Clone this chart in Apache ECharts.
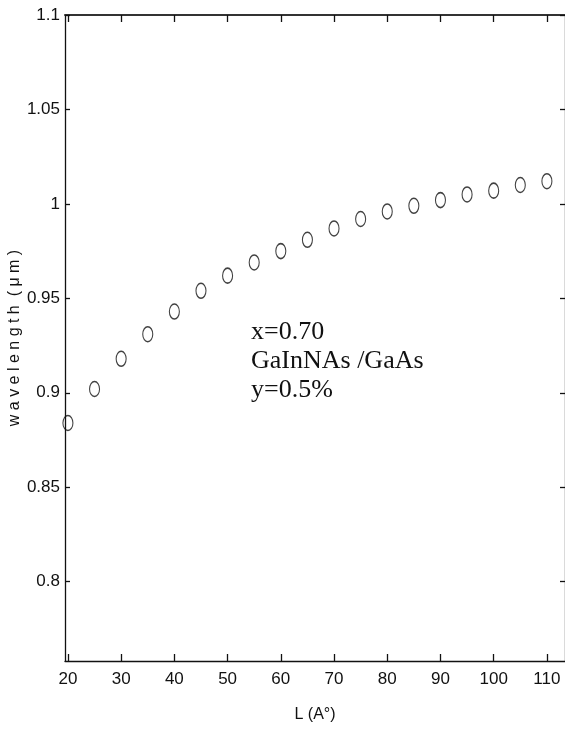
<!DOCTYPE html>
<html>
<head>
<meta charset="utf-8">
<script src="https://cdn.jsdelivr.net/npm/echarts@6.0.0/dist/echarts.min.js"></script>
<style>
  html, body { margin: 0; padding: 0; background: #fff; }
</style>
</head>
<body>
<div id="main" style="width: 565px;height: 729px;background: #fff"></div>
<script>
  // well width L (Angstrom) and emission wavelength (um)
  var lengths = [20, 25, 30, 35, 40, 45, 50, 55, 60, 65, 70, 75, 80, 85, 90, 95, 100, 105, 110];
  var wavelengths = [0.884, 0.902, 0.918, 0.931, 0.943, 0.954, 0.962, 0.969, 0.975, 0.981,
                     0.987, 0.992, 0.996, 0.999, 1.002, 1.005, 1.007, 1.010, 1.012];
  var xTicks = [20, 30, 40, 50, 60, 70, 80, 90, 100, 110];
  var yTicks = [0.8, 0.85, 0.9, 0.95, 1, 1.05, 1.1];
  var noteLines = ['x=0.70', 'GaInNAs /GaAs', 'y=0.5%'];

  var points = lengths.map(function (l, i) {
    return [l, wavelengths[i]];
  });

  var labelFont = "'Liberation Sans', Arial, sans-serif";
  var lineStyle = {color: '#111', width: 1.3};

  var myChart = echarts.init(document.getElementById('main'));
  myChart.setOption({
    animation: false,
    grid: {
      left: 65,
      right: 0,
      top: 15,
      bottom: 68,
      outerBoundsMode: 'none'
    },
    xAxis: [{
      type: 'value',
      position: 'bottom',
      min: 19.45,
      max: 113.4,
      name: 'L (A°)',
      nameLocation: 'middle',
      nameGap: 46,
      nameMoveOverlap: false,
      nameTextStyle: {fontFamily: labelFont, fontSize: 16, color: '#111'},
      splitLine: {show: false},
      axisLine: {show: true, lineStyle: lineStyle},
      axisTick: {show: true, inside: true, length: 7, customValues: xTicks, lineStyle: lineStyle},
      axisLabel: {customValues: xTicks, margin: 10, fontFamily: labelFont, fontSize: 17, color: '#111'}
    }, {
      type: 'value',
      position: 'top',
      min: 19.45,
      max: 113.4,
      splitLine: {show: false},
      axisLine: {show: true, lineStyle: {color: '#333', width: 2}},
      axisTick: {show: true, inside: true, length: 7, customValues: xTicks, lineStyle: lineStyle},
      axisLabel: {show: false}
    }],
    yAxis: [{
      type: 'value',
      position: 'left',
      min: 0.758,
      max: 1.1,
      name: 'w a v e l e n g t h  ( μ m )',
      nameLocation: 'middle',
      nameGap: 42,
      nameMoveOverlap: false,
      nameTextStyle: {fontFamily: labelFont, fontSize: 16, color: '#111'},
      splitLine: {show: false},
      axisLine: {show: true, lineStyle: lineStyle},
      axisTick: {show: true, inside: true, length: 5, customValues: yTicks, lineStyle: lineStyle},
      axisLabel: {customValues: yTicks, margin: 5, fontFamily: labelFont, fontSize: 17, color: '#111'}
    }, {
      type: 'value',
      position: 'right',
      min: 0.758,
      max: 1.1,
      splitLine: {show: false},
      axisLine: {show: true, lineStyle: lineStyle},
      axisTick: {show: true, inside: true, length: 5, customValues: yTicks, lineStyle: lineStyle},
      axisLabel: {show: false}
    }],
    graphic: [{
      type: 'text',
      left: 251,
      top: 318,
      style: {
        text: noteLines.join('\n'),
        fontFamily: "'Liberation Serif', 'Times New Roman', serif",
        fontSize: 26,
        lineHeight: 29,
        fill: '#111'
      }
    }],
    series: [{
      name: 'wavelength',
      type: 'scatter',
      xAxisIndex: 0,
      yAxisIndex: 0,
      symbol: 'path://M50,0A50,50 0 1,1 50,100A50,50 0 1,1 50,0Z',
      symbolSize: [10, 15],
      itemStyle: {
        color: 'rgba(0,0,0,0)',
        borderColor: '#111',
        borderWidth: 1.3
      },
      data: points
    }]
  });
</script>
</body>
</html>
